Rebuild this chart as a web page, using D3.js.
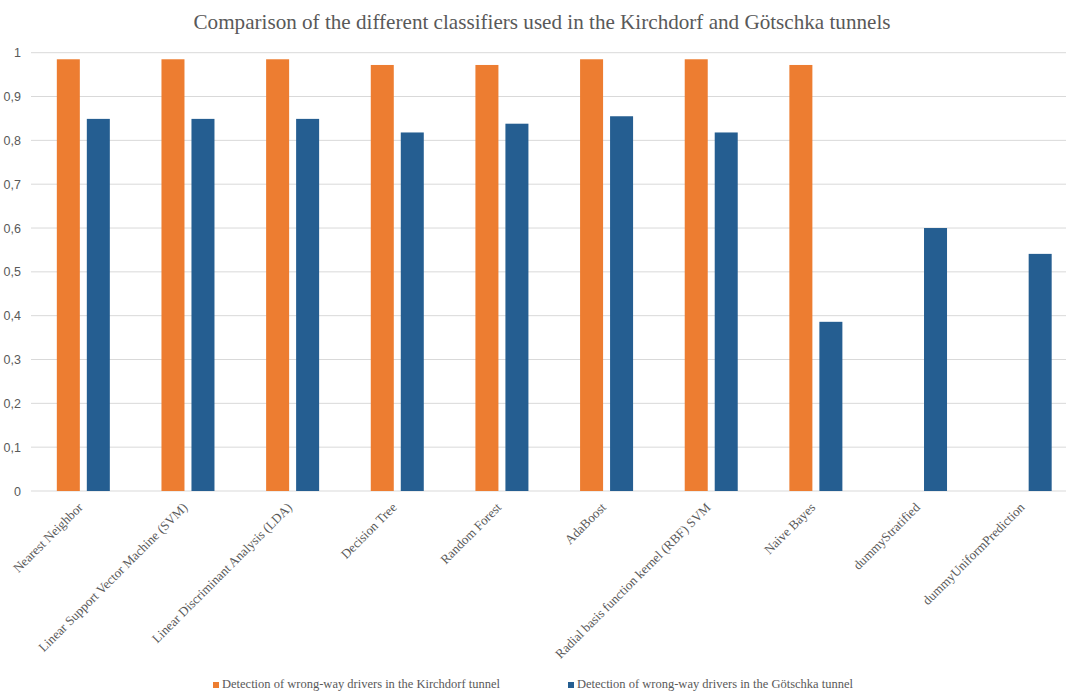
<!DOCTYPE html>
<html>
<head>
<meta charset="utf-8">
<script src="https://cdn.jsdelivr.net/npm/d3@7"></script>
<style>
  html, body { margin: 0; padding: 0; background: #ffffff; }
  svg { display: block; }
  .serif { font-family: "Liberation Serif", "Times New Roman", serif; }
  .sans { font-family: "Liberation Sans", Arial, sans-serif; }
</style>
</head>
<body>
<svg id="chart" width="1066" height="695"></svg>
<script>
const titleText = "Comparison of the different classifiers used in the Kirchdorf and Götschka tunnels";
const categories = [
  "Nearest Neighbor",
  "Linear Support Vector Machine (SVM)",
  "Linear Discriminant Analysis (LDA)",
  "Decision Tree",
  "Random Forest",
  "AdaBoost",
  "Radial basis function kernel (RBF) SVM",
  "Naive Bayes",
  "dummyStratified",
  "dummyUniformPrediction"
];
const seriesNames = [
  "Detection of wrong-way drivers in the Kirchdorf tunnel",
  "Detection of wrong-way drivers in the Götschka tunnel"
];
const kirchdorfValues = [0.985, 0.985, 0.985, 0.972, 0.972, 0.985, 0.985, 0.972, null, null];
const goetschkaValues = [0.849, 0.849, 0.849, 0.818, 0.838, 0.855, 0.818, 0.386, 0.600, 0.541];
const yTicks = [0, 0.1, 0.2, 0.3, 0.4, 0.5, 0.6, 0.7, 0.8, 0.9, 1];
const yTickLabels = ["0", "0,1", "0,2", "0,3", "0,4", "0,5", "0,6", "0,7", "0,8", "0,9", "1"];
const seriesColors = ["#ED7D31", "#255E91"];

const svg = d3.select("#chart");
const W = 1066, H = 695;
const plotLeft = 31, plotRight = 1077.5, plotTop = 52.7, plotBottom = 491;

const x0 = d3.scaleBand().domain(categories).range([plotLeft, plotRight]).paddingInner(0.4935).paddingOuter(0.4935 / 2);
const x1 = d3.scaleBand().domain(seriesNames).range([0, x0.bandwidth()]).paddingInner(0.233);
const y = d3.scaleLinear().domain([0, 1]).range([plotBottom, plotTop]);

svg.append("rect").attr("width", W).attr("height", H).attr("fill", "#ffffff");

// title
svg.append("text")
  .attr("class", "serif")
  .attr("x", 542).attr("y", 29)
  .attr("text-anchor", "middle")
  .style("font-size", "21px")
  .attr("fill", "#595959")
  .attr("textLength", 697)
  .attr("lengthAdjust", "spacingAndGlyphs")
  .text(titleText);

// gridlines
svg.append("g").selectAll("line").data(yTicks).join("line")
  .attr("x1", plotLeft).attr("x2", W)
  .attr("y1", d => y(d)).attr("y2", d => y(d))
  .attr("stroke", "#d9d9d9").attr("stroke-width", 1);

// y axis labels
const yAxis = d3.axisLeft(y).tickValues(yTicks).tickFormat((d, i) => yTickLabels[i]).tickSize(0).tickPadding(10);
const gy = svg.append("g").attr("transform", `translate(${plotLeft},0)`).call(yAxis);
gy.select(".domain").remove();
gy.selectAll("text")
  .attr("class", "sans")
  .attr("font-family", null)
  .style("font-size", "12.5px")
  .attr("fill", "#595959");

// bars
const rows = categories.map((c, i) => ({ cat: c, vals: [kirchdorfValues[i], goetschkaValues[i]] }));
const groups = svg.append("g").selectAll("g").data(rows).join("g")
  .attr("transform", d => `translate(${x0(d.cat)},0)`);
groups.selectAll("rect")
  .data(d => d.vals.map((v, j) => ({ s: seriesNames[j], v, j })).filter(e => e.v !== null))
  .join("rect")
  .attr("x", e => x1(e.s))
  .attr("width", x1.bandwidth())
  .attr("y", e => y(e.v))
  .attr("height", e => y(0) - y(e.v))
  .attr("fill", e => seriesColors[e.j]);

// x axis labels
const xAxis = d3.axisBottom(x0).tickSize(0).tickPadding(0);
const gx = svg.append("g").attr("transform", `translate(0,${plotBottom})`).call(xAxis);
gx.attr("font-family", null).attr("font-size", null);
gx.select(".domain").remove();
gx.selectAll("text")
  .attr("class", "serif")
  .style("font-size", "13px")
  .attr("fill", "#595959")
  .attr("text-anchor", "end")
  .attr("dy", "0.35em")
  .attr("transform", "translate(-3,14) rotate(-45)");

// legend
const legendX = [213, 568];
const lg = svg.append("g").selectAll("g").data(seriesNames).join("g")
  .attr("transform", (d, i) => `translate(${legendX[i]},688)`);
lg.append("rect").attr("x", 0).attr("y", -6).attr("width", 6).attr("height", 6)
  .attr("fill", (d, i) => seriesColors[i]);
lg.append("text").attr("class", "serif").attr("x", 9).attr("y", 0)
  .style("font-size", "12.5px")
  .attr("fill", "#595959")
  .text(d => d);
</script>
</body>
</html>
